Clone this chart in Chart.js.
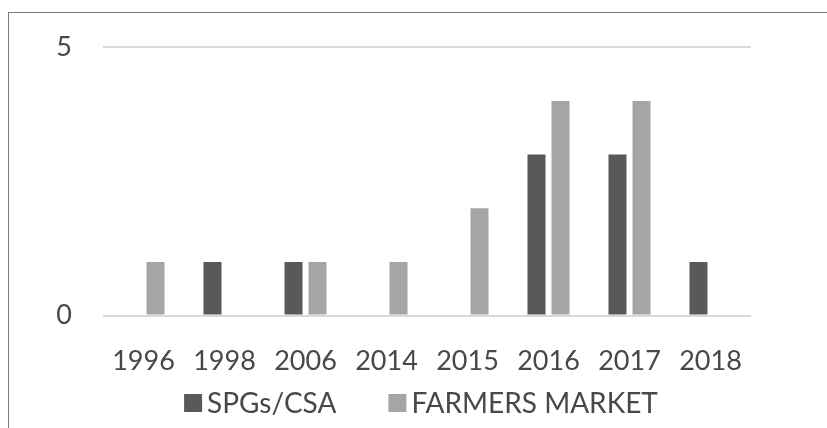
<!DOCTYPE html>
<html>
<head>
<meta charset="utf-8">
<script src="https://cdn.jsdelivr.net/npm/chart.js@4.4.1/dist/chart.umd.min.js"></script>
<style>
  html, body { margin: 0; padding: 0; background: #fff; }
  #wrap { position: relative; width: 827px; height: 428px; overflow: hidden; }
  #frame { position: absolute; left: 8px; top: 12px; width: 900px; height: 500px;
           border-left: 1px solid #7a7a7a; border-top: 1px solid #7a7a7a; }
  canvas { position: absolute; left: 0; top: 0; }
</style>
</head>
<body>
<div id="wrap">
  <div id="frame"></div>
  <canvas id="chart" width="827" height="428"></canvas>
</div>
<script>
// ---------- DATA ----------
const years = ['1996', '1998', '2006', '2014', '2015', '2016', '2017', '2018'];
const spgCsa = [0, 1, 1, 0, 0, 3, 3, 1];
const farmersMarket = [1, 0, 1, 1, 2, 4, 4, 0];
const yTicks = [0, 5];

const FONT = 'Lato, "Open Sans", sans-serif';
const TEXT = '#484848';

// legend drawn under the axis, Excel style (small gap box->text, wide gap between items)
const bottomLegend = {
  id: 'bottomLegend',
  afterDraw(chart) {
    const c = chart.ctx;
    const box = 18, gap = 5, itemGap = 52, cy = 403, centerX = 421;
    c.save();
    c.font = '28px ' + FONT;
    c.textBaseline = 'middle';
    const items = chart.data.datasets.map(ds => ({ text: ds.label, color: ds.backgroundColor, w: c.measureText(ds.label).width }));
    const total = items.reduce((s, it) => s + box + gap + it.w, 0) + itemGap * (items.length - 1);
    let x = centerX - total / 2;
    items.forEach(it => {
      c.fillStyle = it.color;
      c.fillRect(x, cy - box / 2, box, box);
      c.fillStyle = TEXT;
      c.fillText(it.text, x + box + gap, cy + 1);
      x += box + gap + it.w + itemGap;
    });
    c.restore();
  }
};

const ctx = document.getElementById('chart').getContext('2d');
new Chart(ctx, {
  type: 'bar',
  data: {
    labels: years,
    datasets: [
      { label: 'SPGs/CSA', data: spgCsa, backgroundColor: '#595959' },
      { label: 'FARMERS MARKET', data: farmersMarket, backgroundColor: '#a5a5a5' }
    ]
  },
  plugins: [bottomLegend],
  options: {
    responsive: false,
    animation: false,
    devicePixelRatio: 1,
    datasets: { bar: { categoryPercentage: 0.593, barPercentage: 0.75 } },
    layout: { padding: { top: 24, right: 76, bottom: 30, left: 0 } },
    plugins: {
      tooltip: { enabled: false },
      legend: { display: false }
    },
    scales: {
      x: {
        grid: { display: false },
        border: { display: false },
        ticks: { color: TEXT, font: { family: FONT, size: 27 }, padding: 21, maxRotation: 0 }
      },
      y: {
        min: 0,
        max: 5,
        afterBuildTicks: s => { s.ticks = yTicks.map(v => ({ value: v })); },
        afterFit: s => { s.width = 103; },
        grid: { color: '#d9d9d9', lineWidth: 2, drawTicks: false },
        border: { display: false },
        ticks: { color: TEXT, font: { family: FONT, size: 27 }, padding: 31 }
      }
    }
  }
});
</script>
</body>
</html>
